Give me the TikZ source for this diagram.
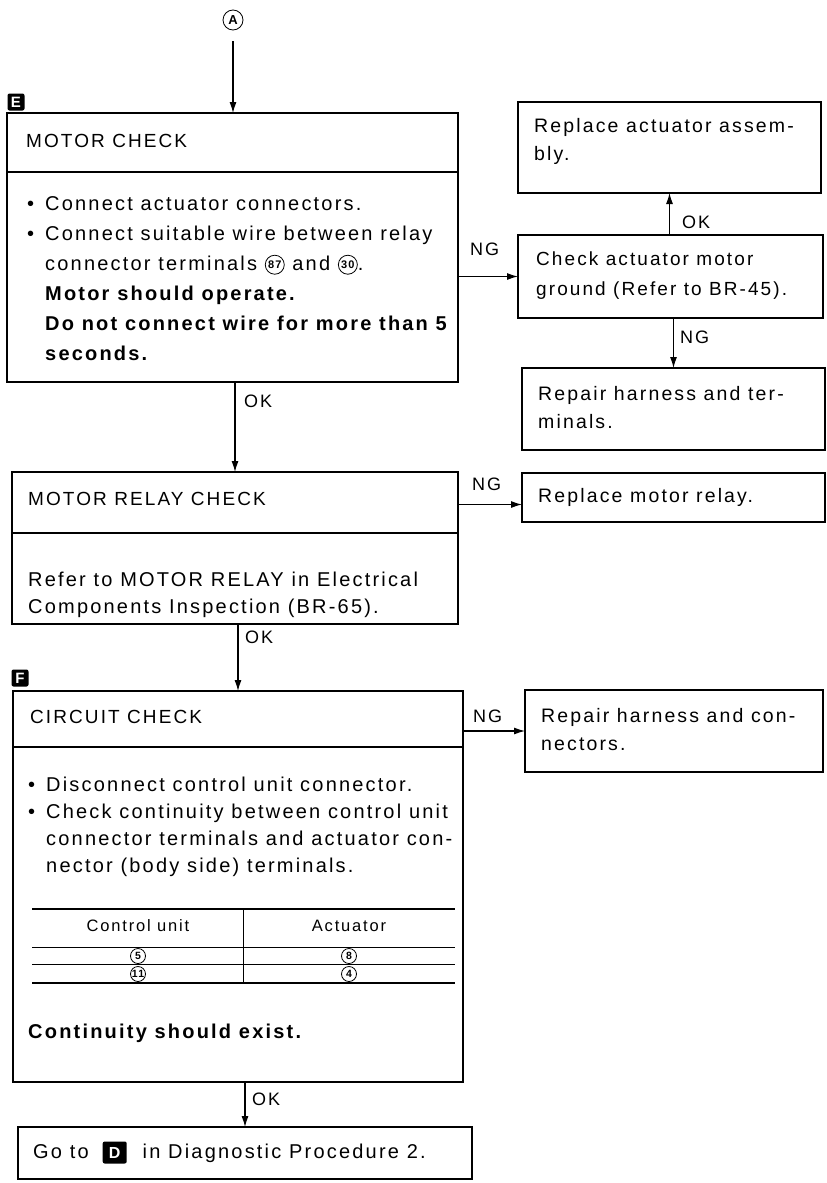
\documentclass[tikz,border=0pt]{standalone}
\usepackage{fontspec}
\setmainfont{Liberation Sans}[LetterSpace=11]
\usetikzlibrary{arrows.meta,positioning}

% small helpers for the step texts
\newcommand{\itm}{\makebox[18pt][l]{\textbullet}}
\newcommand{\ind}{\makebox[18pt][l]{}}
\newcommand{\cnum}[1]{\tikz[baseline={([yshift=-1.5pt]cn.base)}]\node[draw,circle,line width=0.8pt,inner sep=0pt,
  minimum size=19pt,font=\fontsize{11}{11}\selectfont\bfseries] (cn) {#1};}
\newcommand{\dtag}{\tikz[baseline=(dt.base)]\node[fill=black,text=white,rounded corners=2pt,inner sep=0pt,
  minimum width=24pt,minimum height=22pt,font=\fontsize{16}{16}\selectfont\bfseries] (dt) {D};}

\begin{document}
\begin{tikzpicture}[x=1pt, y=-1pt,
  box/.style={draw, line width=1.1pt, anchor=north west, inner sep=0pt, outer sep=0pt},
  txt/.style={anchor=base west, inner sep=0pt, align=left, font=\fontsize{20}{30}\selectfont},
  rtxt/.style={anchor=base west, inner sep=0pt, align=left, font=\fontsize{19.5}{28}\selectfont},
  lbl/.style={anchor=base west, inner sep=0pt, font=\fontsize{18}{18}\selectfont},
  arr/.style={line width=1.1pt, -{Latex[length=11pt,width=7pt]}},
  lettertag/.style={fill=black, text=white, rounded corners=2pt, inner sep=0pt,
    minimum size=17pt, font=\fontsize{15}{15}\selectfont\bfseries},
  cell/.style={inner sep=0pt, font=\fontsize{16.5}{16.5}\selectfont},
  term/.style={draw, circle, line width=0.8pt, inner sep=0pt, minimum size=15pt,
    font=\fontsize{10.5}{10.5}\selectfont\bfseries}]
  \fill[white] (0,0) rectangle (827,1183);
  \useasboundingbox (0,0) rectangle (827,1183);

  % Entry
  \node[draw, circle, line width=0.8pt, inner sep=0pt, minimum size=20pt,
    font=\fontsize{13}{13}\selectfont\bfseries] (inA) at (233,20) {A};
  \node[lettertag] (tagE) at (16,102) {E};

  % Motor check
  \node[box, minimum width=451pt, minimum height=269pt] (mck) at (7,113) {};
  \draw[line width=1.1pt] (mck.west |- 0,172) -- (mck.east |- 0,172);
  \node[txt, font=\fontsize{19}{30}\selectfont] (mckt) at (26,147) {MOTOR CHECK};
  \node[txt] (mckb) at (27,360) {\itm Connect actuator connectors.\\
    \itm Connect suitable wire between relay\\
    \ind connector terminals \cnum{87} and \cnum{30}.\\
    \ind\textbf{Motor should operate.}\\
    \ind\textbf{Do not connect wire for more than 5}\\
    \ind\textbf{seconds.}};

  % Actuator side
  \node[box, minimum width=303pt, minimum height=91pt] (rpa) at (518,102) {};
  \node[rtxt] (rpat) at (534,160) {Replace actuator assem-\\bly.};
  \node[box, minimum width=305pt, minimum height=83pt] (chk) at (518,235) {};
  \node[rtxt, font=\fontsize{19}{30}\selectfont] (chkt) at (536,295) {Check actuator motor\\ground (Refer to BR-45).};
  \node[box, minimum width=303pt, minimum height=82pt] (rpt) at (522,368) {};
  \node[rtxt] (rptt) at (538,428) {Repair harness and ter-\\minals.};

  % Motor relay check
  \node[box, minimum width=446pt, minimum height=152pt] (rly) at (12,472) {};
  \draw[line width=1.1pt] (rly.west |- 0,533) -- (rly.east |- 0,533);
  \node[txt, font=\fontsize{19}{30}\selectfont] (rlyt) at (28,505) {MOTOR RELAY CHECK};
  \node[txt, font=\fontsize{20}{27}\selectfont] (rlyb) at (28,613) {Refer to MOTOR RELAY in Electrical\\
    Components Inspection (BR-65).};
  \node[box, minimum width=303pt, minimum height=49pt] (rrl) at (522,473) {};
  \node[rtxt] (rrlt) at (538,502) {Replace motor relay.};

  % Circuit check
  \node[lettertag] (tagF) at (20,678) {F};
  \node[box, minimum width=450pt, minimum height=391pt] (cir) at (13,691) {};
  \draw[line width=1.1pt] (cir.west |- 0,747) -- (cir.east |- 0,747);
  \node[txt, font=\fontsize{19}{30}\selectfont] (cirt) at (30,723) {CIRCUIT CHECK};
  \node[txt, font=\fontsize{20}{27}\selectfont] (cirb) at (28,872) {\itm Disconnect control unit connector.\\
    \itm Check continuity between control unit\\
    \ind connector terminals and actuator con-\\
    \ind nector (body side) terminals.};
  % terminal table
  \draw[line width=2pt] (32,909) -- (455,909);
  \draw[line width=0.8pt] (32,947) -- (455,947);
  \draw[line width=0.8pt] (32,964) -- (455,964);
  \draw[line width=2pt] (32,983) -- (455,983);
  \draw[line width=0.8pt] (243,909) -- (243,983);
  \node[cell, anchor=base] (hcu) at (138,931) {Control unit};
  \node[cell, anchor=base] (hac) at (349,931) {Actuator};
  \node[term] (cu1) at (138,956) {5};
  \node[term] (ac1) at (349,956) {8};
  \node[term] (cu2) at (138,974) {11};
  \node[term] (ac2) at (349,974) {4};
  \node[txt] (circ) at (28,1038) {\textbf{Continuity should exist.}};
  \node[box, minimum width=298pt, minimum height=82pt] (rpc) at (525,690) {};
  \node[rtxt] (rpct) at (541,750) {Repair harness and con-\\nectors.};

  % Exit
  \node[box, minimum width=454pt, minimum height=52pt] (gto) at (18,1127) {};
  \node[txt] (gtot) at (33,1158) {Go to\hspace{14pt}\dtag\hspace{16pt}in Diagnostic Procedure 2.};

  % Connectors
  \draw[arr, shorten <=11pt] (inA) -- (inA |- mck.north);
  \draw[arr] (rly.north |- mck.south) -- (rly.north);
  \draw[arr] (cir.north |- rly.south) -- (cir.north);
  \draw[arr] (gto.north |- cir.south) -- (gto.north);
  \draw[arr] (mck.east |- chk.west) -- (chk.west);
  \draw[arr] (rpa.south |- chk.north) -- (rpa.south);
  \draw[arr] (rpt.north |- chk.south) -- (rpt.north);
  \draw[arr] ([yshift=-7pt]rrl.west -| rly.east) -- ([yshift=-7pt]rrl.west);
  \draw[arr] (cir.east |- rpc.west) -- (rpc.west);

  % Labels
  \node[lbl] (ok1) at (244,407) {OK};
  \node[lbl] (ok2) at (245,643) {OK};
  \node[lbl] (ok3) at (252,1105) {OK};
  \node[lbl] (ok4) at (682,228) {OK};
  \node[lbl] (ng1) at (470,255) {NG};
  \node[lbl] (ng2) at (472,490) {NG};
  \node[lbl] (ng3) at (473,722) {NG};
  \node[lbl] (ng4) at (680,343) {NG};
\end{tikzpicture}
\end{document}
